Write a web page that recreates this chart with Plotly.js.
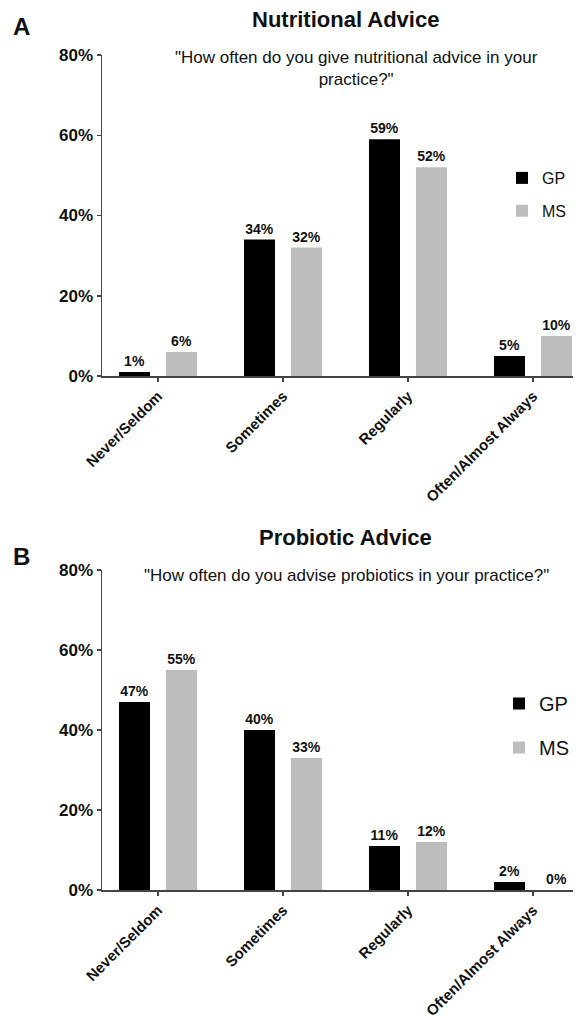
<!DOCTYPE html>
<html>
<head>
<meta charset="utf-8">
<script src="https://cdn.plot.ly/plotly-3.0.1.min.js"></script>
<style>html,body{margin:0;padding:0;background:#fff;}#chart{width:576px;height:1021px;}</style>
</head>
<body>
<div id="chart"></div>
<script>
// ---- data ----
const categories = ["Never/Seldom", "Sometimes", "Regularly", "Often/Almost Always"];
const seriesNames = ["GP", "MS"];
const nutritionGP = [1, 34, 59, 5];
const nutritionMS = [6, 32, 52, 10];
const probioticGP = [47, 40, 11, 2];
const probioticMS = [55, 33, 12, 0];
const yTickVals = [0, 20, 40, 60, 80];

// ---- styling ----
const FONT = "Liberation Sans, Arial, Helvetica, sans-serif";
const W = 576, H = 1021, L = 102, R = 3;
const px = x => (x - L) / (W - L - R);
const py = y => 1 - y / H;
const colGP = "#000000", colMS = "#bdbdbd";

function barTrace(name, vals, color, xa, ya, legend) {
  return {
    type: "bar", name: name, x: categories, y: vals,
    xaxis: xa, yaxis: ya, legend: legend, legendgroup: legend + name,
    marker: {color: color, line: {width: 0}},
    text: vals.map(v => v + "%"), textposition: "outside",
    textfont: {family: FONT, size: 14, color: "#111", weight: "bold"},
    cliponaxis: false, hoverinfo: "skip"
  };
}

const traces = [
  barTrace(seriesNames[0], nutritionGP, colGP, "x", "y", "legend"),
  barTrace(seriesNames[1], nutritionMS, colMS, "x", "y", "legend"),
  barTrace(seriesNames[0], probioticGP, colGP, "x2", "y2", "legend2"),
  barTrace(seriesNames[1], probioticMS, colMS, "x2", "y2", "legend2")
];

function xAxis(anchor) {
  return {
    anchor: anchor, domain: [0, 1], range: [-0.448, 3.32],
    type: "category", showline: true, linecolor: "#444", linewidth: 1.5,
    ticks: "outside", ticklen: 4, tickwidth: 1.5, tickcolor: "#444",
    tickangle: -45, showgrid: false, zeroline: false, automargin: false,
    tickfont: {family: FONT, size: 15, color: "#111", weight: "bold"}
  };
}
function yAxis(anchor, dom) {
  return {
    anchor: anchor, domain: dom, range: [0, 80],
    tickvals: yTickVals, ticktext: yTickVals.map(v => v + "%"),
    showline: true, linecolor: "#444", linewidth: 1.5,
    ticks: "outside", ticklen: 4, tickwidth: 1.5, tickcolor: "#444",
    showgrid: false, zeroline: false, automargin: false,
    tickfont: {family: FONT, size: 17, color: "#111", weight: "bold"}
  };
}

function ann(text, x, y, size, bold, extra) {
  return Object.assign({
    text: text, xref: "paper", yref: "paper", x: px(x), y: py(y),
    xanchor: "center", yanchor: "middle", showarrow: false,
    font: {family: FONT, size: size, color: "#111", weight: bold ? "bold" : "normal"}
  }, extra || {});
}

const layout = {
  width: W, height: H,
  margin: {l: L, r: R, t: 0, b: 0},
  paper_bgcolor: "#fff", plot_bgcolor: "#fff",
  barmode: "group", bargap: 0.248, bargroupgap: 0.34,
  showlegend: true,
  xaxis: xAxis("y"),
  yaxis: yAxis("x", [py(376), py(55)]),
  xaxis2: xAxis("y2"),
  yaxis2: yAxis("x2", [py(890), py(570)]),
  legend: {
    x: px(502), y: py(161), xanchor: "left", yanchor: "top",
    traceorder: "grouped", tracegroupgap: 9,
    font: {family: FONT, size: 16, color: "#111"}, bgcolor: "rgba(0,0,0,0)"
  },
  legend2: {
    x: px(499), y: py(684), xanchor: "left", yanchor: "top",
    traceorder: "grouped", tracegroupgap: 15,
    font: {family: FONT, size: 20, color: "#111"}, bgcolor: "rgba(0,0,0,0)"
  },
  annotations: [
    ann("A", 21, 27, 24, true),
    ann("Nutritional Advice", 345, 20, 22, true),
    ann("\"How often do you give nutritional advice in your<br>practice?\"", 356, 69, 17, false),
    ann("B", 21, 556, 24, true),
    ann("Probiotic Advice", 345, 537, 22, true),
    ann("\"How often do you advise probiotics in your practice?\"", 346, 575, 17, false)
  ]
};

Plotly.newPlot("chart", traces, layout, {displayModeBar: false, staticPlot: true});
</script>
</body>
</html>
